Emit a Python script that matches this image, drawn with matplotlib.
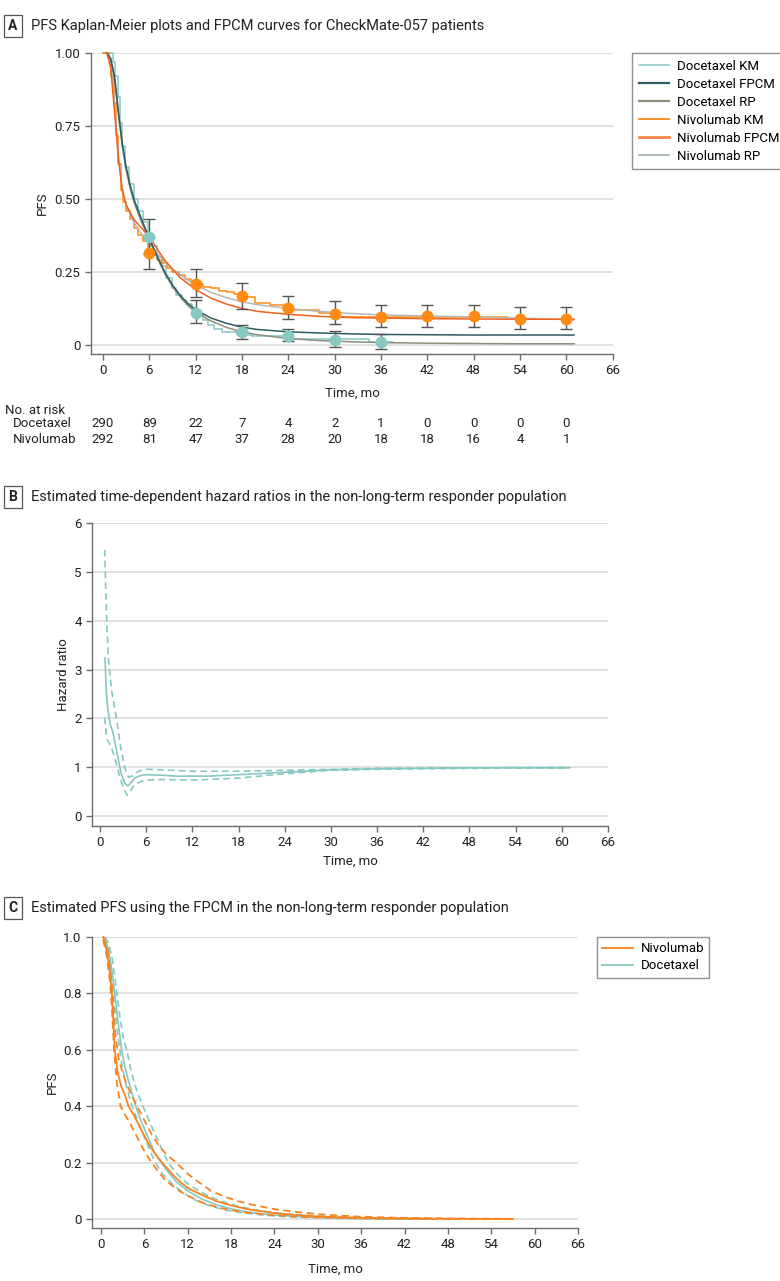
import matplotlib
matplotlib.use("Agg")
import matplotlib.pyplot as plt
from matplotlib import transforms
from matplotlib.lines import Line2D

plt.rcParams['font.family'] = ['Roboto', 'DejaVu Sans']

# ---------------- Panel A data ----------------
doc_km_t = [0, 1.3, 1.6, 1.9, 2.2, 2.5, 2.8, 3.4, 4.0, 4.6, 5.2, 5.8, 6.4, 7.0, 7.6, 8.2, 8.9, 9.5,
            10.2, 10.8, 11.5, 12.2, 12.9, 13.6, 14.4, 15.4, 17.4, 19.3, 24.5, 34.4, 37.5]
doc_km_s = [1.0, 0.97, 0.92, 0.85, 0.76, 0.68, 0.61, 0.55, 0.50, 0.46, 0.42, 0.38, 0.34, 0.30, 0.27,
            0.23, 0.195, 0.17, 0.155, 0.14, 0.125, 0.105, 0.085, 0.07, 0.055, 0.045, 0.035, 0.03,
            0.02, 0.011, 0.011]

niv_km_t = [0, 0.8, 1.1, 1.4, 1.7, 2.0, 2.3, 2.6, 3.0, 3.5, 4.0, 4.6, 5.2, 5.8, 6.4, 7.0, 7.6, 8.3,
            9.0, 9.8, 10.6, 11.4, 12.2, 13.0, 14.0, 15.0, 16.0, 17.0, 18.0, 19.7, 21.6, 23.3, 28.0,
            30.5, 52.3]
niv_km_s = [1.0, 0.98, 0.92, 0.83, 0.72, 0.62, 0.53, 0.49, 0.46, 0.43, 0.40, 0.375, 0.355, 0.33,
            0.31, 0.29, 0.28, 0.265, 0.25, 0.24, 0.225, 0.215, 0.21, 0.20, 0.195, 0.185, 0.18,
            0.175, 0.165, 0.145, 0.137, 0.12, 0.11, 0.097, 0.097]

doc_fit_t = [0.5, 1.0, 1.5, 2.0, 2.5, 3.0, 3.5, 4.0, 5.0, 6.0, 7.0, 8.0, 9.0, 10.0, 11.0, 12.0, 14.0,
             16.0, 18.0, 20.0, 24.0, 28.0, 32.0, 36.0, 42.0, 48.0, 54.0, 61.0]
doc_fpcm_s = [1.0, 0.98, 0.92, 0.80, 0.69, 0.61, 0.55, 0.50, 0.43, 0.365, 0.305, 0.25, 0.205,
              0.17, 0.142, 0.12, 0.092, 0.074, 0.061, 0.053, 0.045, 0.041, 0.038, 0.036, 0.035,
              0.034, 0.034, 0.034]
doc_rp_s = [1.0, 0.98, 0.91, 0.79, 0.68, 0.60, 0.54, 0.49, 0.42, 0.36, 0.30, 0.245, 0.20, 0.165,
            0.135, 0.112, 0.082, 0.060, 0.045, 0.035, 0.022, 0.015, 0.011, 0.008, 0.006, 0.005,
            0.004, 0.004]
niv_fit_t = [0.5, 1.0, 1.5, 2.0, 2.5, 3.0, 4.0, 5.0, 6.0, 7.0, 8.0, 9.0, 10.0, 11.0, 12.0, 14.0,
             16.0, 18.0, 20.0, 24.0, 28.0, 32.0, 36.0, 42.0, 48.0, 54.0, 61.0]
niv_fpcm_s = [1.0, 0.95, 0.80, 0.64, 0.53, 0.48, 0.43, 0.40, 0.37, 0.33, 0.29, 0.26, 0.23, 0.21,
              0.19, 0.16, 0.14, 0.125, 0.115, 0.105, 0.098, 0.094, 0.092, 0.090, 0.089, 0.088,
              0.088]
niv_rp_s = [1.0, 0.97, 0.82, 0.65, 0.53, 0.48, 0.42, 0.38, 0.35, 0.315, 0.285, 0.26, 0.24, 0.222,
            0.205, 0.18, 0.162, 0.148, 0.138, 0.125, 0.115, 0.108, 0.103, 0.099, 0.096, 0.092,
            0.086]

doc_pt_t = [6, 12, 18, 24, 30, 36]
doc_pt_s = [0.371, 0.111, 0.046, 0.029, 0.017, 0.010]
doc_pt_lo = [0.31, 0.075, 0.020, 0.013, -0.007, -0.014]
doc_pt_hi = [0.431, 0.154, 0.068, 0.055, 0.049, 0.038]

niv_pt_t = [6, 12, 18, 24, 30, 36, 42, 48, 54, 60]
niv_pt_s = [0.315, 0.208, 0.166, 0.126, 0.105, 0.095, 0.098, 0.100, 0.089, 0.088]
niv_pt_lo = [0.26, 0.165, 0.123, 0.089, 0.072, 0.063, 0.063, 0.063, 0.054, 0.054]
niv_pt_hi = [0.37, 0.259, 0.212, 0.169, 0.150, 0.138, 0.137, 0.137, 0.131, 0.131]

risk_times = [0, 6, 12, 18, 24, 30, 36, 42, 48, 54, 60]
risk_doc = [290, 89, 22, 7, 4, 2, 1, 0, 0, 0, 0]
risk_niv = [292, 81, 47, 37, 28, 20, 18, 18, 16, 4, 1]

# ---------------- Panel B data ----------------
hr_t = [0.65, 0.8, 1.0, 1.3, 1.7, 2.2, 2.7, 3.2, 3.6, 4.0, 4.5, 5.2, 6.0, 8.0, 10.0, 14.0, 18.0,
        24.0, 30.0, 36.0, 42.0, 48.0, 54.0, 61.0]
hr_est = [3.24, 2.6, 2.2, 1.9, 1.7, 1.3, 0.9, 0.68, 0.62, 0.68, 0.78, 0.83, 0.85, 0.84, 0.82,
          0.82, 0.85, 0.90, 0.95, 0.97, 0.98, 0.99, 0.99, 0.99]
hr_up_t = [0.6, 0.87, 1.1, 1.5, 2.17, 2.7, 3.2, 3.7, 4.2, 5.0, 6.0, 8.0, 12.0, 18.0, 24.0, 30.0,
           36.0, 48.0, 61.0]
hr_up = [5.45, 4.0, 3.2, 2.58, 1.97, 1.4, 1.0, 0.8, 0.82, 0.92, 0.96, 0.95, 0.92, 0.92, 0.94,
         0.96, 0.98, 0.99, 1.0]
hr_lo_t = [0.6, 0.8, 1.0, 1.5, 2.0, 2.5, 3.0, 3.5, 3.9, 4.5, 5.5, 6.0, 8.0, 12.0, 18.0, 24.0,
           30.0, 36.0, 48.0, 61.0]
hr_lo = [2.02, 1.7, 1.55, 1.4, 1.15, 0.85, 0.6, 0.43, 0.5, 0.65, 0.72, 0.74, 0.75, 0.74, 0.78,
         0.87, 0.94, 0.96, 0.98, 0.99]

# ---------------- Panel C data ----------------
c_niv_t = [0.3, 0.8, 1.2, 1.5, 1.9, 2.3, 2.8, 3.3, 3.8, 4.5, 5.5, 6.5, 7.5, 8.8, 10.0, 11.0, 12.0,
           13.0, 14.0, 16.0, 18.0, 20.0, 22.0, 24.0, 27.0, 30.0, 33.0, 36.0, 40.0, 45.0, 50.0, 57.0]
c_niv = [1.0, 0.95, 0.88, 0.80, 0.60, 0.52, 0.47, 0.44, 0.40, 0.37, 0.32, 0.27, 0.23, 0.19, 0.155,
         0.13, 0.11, 0.097, 0.085, 0.063, 0.048, 0.036, 0.028, 0.021, 0.014, 0.009, 0.006, 0.004,
         0.002, 0.001, 0.0005, 0.0]
c_niv_lo_t = [0.3, 0.8, 1.2, 1.5, 1.8, 2.2, 2.7, 3.3, 4.0, 5.0, 6.0, 7.0, 8.0, 9.0, 10.8, 12.0,
              14.0, 16.0, 18.0, 20.0, 24.0, 28.0, 32.0, 36.0, 42.0, 50.0, 57.0]
c_niv_lo = [0.99, 0.93, 0.85, 0.75, 0.60, 0.48, 0.40, 0.37, 0.34, 0.29, 0.24, 0.20, 0.165, 0.135,
            0.10, 0.082, 0.058, 0.042, 0.031, 0.023, 0.013, 0.007, 0.004, 0.002, 0.001, 0.0, 0.0]
c_niv_hi_t = [0.3, 0.8, 1.2, 1.5, 2.0, 2.5, 3.0, 3.5, 4.2, 5.0, 6.0, 7.0, 8.0, 9.0, 10.4, 12.0,
              13.0, 15.2, 17.0, 19.0, 21.0, 24.0, 27.0, 30.0, 33.0, 36.0, 40.0, 45.0, 50.0, 57.0]
c_niv_hi = [1.0, 0.97, 0.90, 0.83, 0.65, 0.56, 0.52, 0.48, 0.44, 0.40, 0.35, 0.30, 0.26, 0.23,
            0.20, 0.16, 0.14, 0.10, 0.08, 0.063, 0.05, 0.035, 0.025, 0.017, 0.012, 0.008, 0.005,
            0.003, 0.0015, 0.0005]
c_doc_t = [0.55, 1.0, 1.4, 1.9, 2.4, 2.85, 3.3, 3.8, 4.8, 5.5, 6.5, 7.5, 8.3, 9.5, 10.5, 12.0,
           13.0, 14.0, 16.0, 18.0, 20.0, 22.0, 24.0, 27.0, 30.0, 33.0, 36.0, 40.0, 46.0]
c_doc = [0.99, 0.96, 0.90, 0.80, 0.69, 0.60, 0.54, 0.49, 0.40, 0.35, 0.29, 0.23, 0.20, 0.16, 0.13,
         0.10, 0.085, 0.07, 0.05, 0.036, 0.026, 0.019, 0.014, 0.009, 0.006, 0.004, 0.002, 0.001,
         0.0]
c_doc_lo_t = [0.55, 1.0, 1.4, 1.9, 2.4, 2.85, 3.5, 4.3, 5.5, 6.5, 7.5, 8.5, 10.0, 11.5, 13.0,
              15.0, 17.0, 19.0, 22.0, 25.0, 28.0, 32.0, 36.0, 46.0]
c_doc_lo = [0.98, 0.94, 0.87, 0.75, 0.64, 0.55, 0.47, 0.40, 0.32, 0.26, 0.20, 0.16, 0.12, 0.09,
            0.068, 0.047, 0.033, 0.024, 0.015, 0.009, 0.006, 0.003, 0.001, 0.0]
c_doc_hi_t = [0.55, 1.0, 1.5, 2.0, 2.6, 3.1, 3.55, 4.2, 5.0, 5.8, 6.8, 8.0, 9.3, 10.5, 12.0, 13.5,
              15.0, 17.0, 19.0, 21.0, 24.0, 27.0, 30.0, 34.0, 38.0, 42.0, 46.0]
c_doc_hi = [1.0, 0.98, 0.93, 0.84, 0.72, 0.64, 0.60, 0.52, 0.45, 0.40, 0.34, 0.27, 0.20, 0.16,
            0.125, 0.10, 0.08, 0.06, 0.045, 0.034, 0.022, 0.015, 0.010, 0.006, 0.003, 0.002,
            0.001]

x_ticks = [0, 6, 12, 18, 24, 30, 36, 42, 48, 54, 60, 66]

# ---------------- styles ----------------
C_TEAL = '#86C8C2'
C_DOC_FPCM = '#2D5C61'
C_DOC_RP = '#8E8E7C'
C_NIV_KM = '#FF8A14'
C_NIV_FPCM = '#F0601E'
C_NIV_RP = '#B7B9B9'
C_GRID = '#DCDCDC'
C_SPINE = '#6B6B6B'
C_TEXT = '#222222'
FS = 9.5

W, H = 780, 1281
fig = plt.figure(figsize=(W / 100, H / 100), dpi=100)


def ax_at(l, t, r, b):
    return fig.add_axes([l / W, 1 - b / H, (r - l) / W, (b - t) / H])


def style_axes(ax, yticks, ylabels, xlim, ylim):
    ax.set_xlim(*xlim)
    ax.set_ylim(*ylim)
    ax.set_xticks(x_ticks)
    ax.set_yticks(yticks)
    ax.set_yticklabels(ylabels)
    for s in ['top', 'right']:
        ax.spines[s].set_visible(False)
    for s in ['left', 'bottom']:
        ax.spines[s].set_color(C_SPINE)
        ax.spines[s].set_linewidth(1.0)
    ax.tick_params(axis='both', colors=C_SPINE, labelcolor=C_TEXT, labelsize=FS, length=4,
                   width=1.0, direction='out')
    ax.yaxis.grid(True, color=C_GRID, linewidth=1.2)
    ax.xaxis.grid(False)
    ax.set_axisbelow(True)


def panel_title(letter, text, y):
    fig.text(13 / W, 1 - y / H, letter, fontsize=FS + 0.5, fontweight='bold', color=C_TEXT,
             ha='center', va='center',
             bbox=dict(boxstyle='square,pad=0.3', fc='white', ec='#555555', lw=0.9))
    fig.text(31 / W, 1 - y / H, text, fontsize=FS + 1, color=C_TEXT, ha='left', va='center')


# ---------------- Panel A ----------------
panel_title('A', 'PFS Kaplan-Meier plots and FPCM curves for CheckMate-057 patients', 26)
axA = ax_at(91, 53, 613, 354)
style_axes(axA, [0, 0.25, 0.5, 0.75, 1.0], ['0', '0.25', '0.50', '0.75', '1.00'],
           (-1.55, 66.05), (-0.031, 1.0))
lw = 1.1
axA.plot(doc_km_t, doc_km_s, drawstyle='steps-post', color=C_TEAL, lw=lw, clip_on=False)
axA.plot(niv_km_t, niv_km_s, drawstyle='steps-post', color=C_NIV_KM, lw=lw, clip_on=False)
axA.plot(niv_fit_t, niv_rp_s, color=C_NIV_RP, lw=lw, clip_on=False)
axA.plot(doc_fit_t, doc_rp_s, color=C_DOC_RP, lw=lw, clip_on=False)
axA.plot(doc_fit_t, doc_fpcm_s, color=C_DOC_FPCM, lw=lw, clip_on=False)
axA.plot(niv_fit_t, niv_fpcm_s, color=C_NIV_FPCM, lw=lw, clip_on=False)

for ts, ss, lo, hi, col in [(doc_pt_t, doc_pt_s, doc_pt_lo, doc_pt_hi, C_TEAL),
                            (niv_pt_t, niv_pt_s, niv_pt_lo, niv_pt_hi, C_NIV_KM)]:
    yerr = [[s - l for s, l in zip(ss, lo)], [h - s for s, h in zip(ss, hi)]]
    axA.errorbar(ts, ss, yerr=yerr, fmt='none', ecolor='#555555', elinewidth=1.0, capsize=4.5,
                 capthick=1.0, zorder=4, clip_on=False)
    axA.plot(ts, ss, 'o', color=col, markersize=7.5, zorder=5, clip_on=False)

axA.set_ylabel('PFS', fontsize=FS, color=C_TEXT, labelpad=4)
axA.set_xlabel('Time, mo', fontsize=FS, color=C_TEXT, labelpad=7)

handlesA = [Line2D([], [], color=C_TEAL, lw=1.1),
            Line2D([], [], color=C_DOC_FPCM, lw=1.6),
            Line2D([], [], color=C_DOC_RP, lw=1.6),
            Line2D([], [], color=C_NIV_KM, lw=1.3),
            Line2D([], [], color='#F5894A', lw=2.0),
            Line2D([], [], color='#A8B6B6', lw=1.3)]
labelsA = ['Docetaxel KM', 'Docetaxel FPCM', 'Docetaxel RP', 'Nivolumab KM', 'Nivolumab FPCM',
           'Nivolumab RP']
legA = fig.legend(handlesA, labelsA, loc='upper left', bbox_to_anchor=(632 / W, 1 - 53 / H),
                  fontsize=FS, frameon=True, fancybox=False, handlelength=2.3, handletextpad=0.6,
                  labelspacing=0.38, borderpad=0.5, borderaxespad=0)
legA.get_frame().set_edgecolor('#777777')
legA.get_frame().set_linewidth(1.0)

# number at risk
trA = transforms.blended_transform_factory(axA.transData, fig.transFigure)
fig.text(5 / W, 1 - 410 / H, 'No. at risk', fontsize=FS, color=C_TEXT, ha='left', va='center')
fig.text(13 / W, 1 - 424 / H, 'Docetaxel', fontsize=FS, color=C_TEXT, ha='left', va='center')
fig.text(13 / W, 1 - 440 / H, 'Nivolumab', fontsize=FS, color=C_TEXT, ha='left', va='center')
for t, d, n in zip(risk_times, risk_doc, risk_niv):
    axA.text(t, 1 - 424 / H, str(d), transform=trA, fontsize=FS, color=C_TEXT, ha='center',
             va='center')
    axA.text(t, 1 - 440 / H, str(n), transform=trA, fontsize=FS, color=C_TEXT, ha='center',
             va='center')

# ---------------- Panel B ----------------
panel_title('B', 'Estimated time-dependent hazard ratios in the non-long-term responder population',
            497)
axB = ax_at(92, 523, 608, 826)
style_axes(axB, [0, 1, 2, 3, 4, 5, 6], ['0', '1', '2', '3', '4', '5', '6'], (-1.04, 66.0),
           (-0.2, 6.0))
axB.plot(hr_t, hr_est, color=C_TEAL, lw=1.2)
axB.plot(hr_up_t, hr_up, color=C_TEAL, lw=1.2, ls=(0, (4, 2.5)))
axB.plot(hr_lo_t, hr_lo, color=C_TEAL, lw=1.2, ls=(0, (4, 2.5)))
axB.set_ylabel('Hazard ratio', fontsize=FS, color=C_TEXT, labelpad=3)
axB.set_xlabel('Time, mo', fontsize=FS, color=C_TEXT, labelpad=4)

# ---------------- Panel C ----------------
panel_title('C', 'Estimated PFS using the FPCM in the non-long-term responder population', 908)
axC = ax_at(92, 937, 578, 1228)
style_axes(axC, [0, 0.2, 0.4, 0.6, 0.8, 1.0], ['0', '0.2', '0.4', '0.6', '0.8', '1.0'],
           (-1.25, 66.0), (-0.032, 1.0))
C_NIV_C = '#F7841F'
dash = (0, (4, 2.5))
axC.plot(c_doc_t, c_doc, color=C_TEAL, lw=1.2, clip_on=False)
axC.plot(c_doc_lo_t, c_doc_lo, color=C_TEAL, lw=1.2, ls=dash, clip_on=False)
axC.plot(c_doc_hi_t, c_doc_hi, color=C_TEAL, lw=1.2, ls=dash, clip_on=False)
axC.plot(c_niv_t, c_niv, color=C_NIV_C, lw=1.3, clip_on=False)
axC.plot(c_niv_lo_t, c_niv_lo, color=C_NIV_C, lw=1.3, ls=dash, clip_on=False)
axC.plot(c_niv_hi_t, c_niv_hi, color=C_NIV_C, lw=1.3, ls=dash, clip_on=False)
axC.set_ylabel('PFS', fontsize=FS, color=C_TEXT, labelpad=3)
axC.set_xlabel('Time, mo', fontsize=FS, color=C_TEXT, labelpad=8)

handlesC = [Line2D([], [], color=C_NIV_C, lw=1.3), Line2D([], [], color=C_TEAL, lw=1.3)]
legC = fig.legend(handlesC, ['Nivolumab', 'Docetaxel'], loc='upper left',
                  bbox_to_anchor=(597 / W, 1 - 937 / H), fontsize=FS, frameon=True,
                  fancybox=False, handlelength=2.3, handletextpad=0.6, labelspacing=0.3,
                  borderpad=0.4, borderaxespad=0)
legC.get_frame().set_edgecolor('#777777')
legC.get_frame().set_linewidth(1.0)

fig.savefig('out.png', dpi=100, facecolor='white')
